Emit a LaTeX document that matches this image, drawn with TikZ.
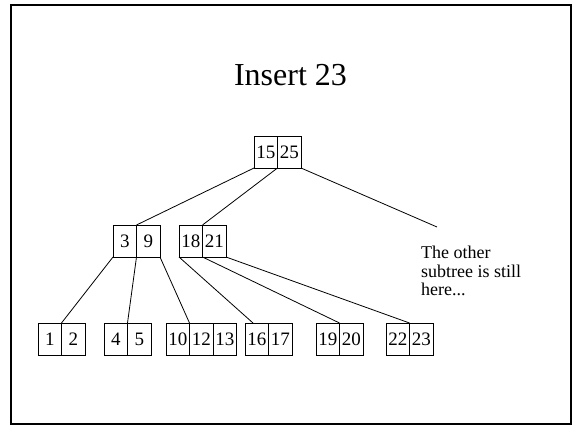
\documentclass[tikz,border=0pt]{standalone}
\usepackage{fontspec}
\setmainfont{Liberation Serif}
\usetikzlibrary{positioning}

\tikzset{
	cell/.style={draw, line width=0.8pt, minimum width=23.5pt, minimum height=32pt, inner sep=0pt, outer sep=0pt, font=\fontsize{19}{21}\selectfont},
	link/.style={draw, line width=0.8pt},
}

\begin{document}
\begin{tikzpicture}[x=1pt, y=-1pt]
	\useasboundingbox (0,0) rectangle (572,425);
	\draw[line width=2pt] (11,5) rectangle (571,424);
	\node[anchor=base, font=\fontsize{32}{38}\selectfont] (title) at (290.5,86) {Insert 23};

	\node[cell, anchor=north west] (r1) at (254,136) {15};
	\node[cell, right=0pt of r1] (r2) {25};

	\node[cell, anchor=north west] (a1) at (113,225) {3};
	\node[cell, right=0pt of a1] (a2) {9};
	\node[cell, anchor=north west] (b1) at (179,225) {18};
	\node[cell, right=0pt of b1] (b2) {21};

	\node[cell, anchor=north west] (l1a) at (38,323) {1};
	\node[cell, right=0pt of l1a] (l1b) {2};
	\node[cell, anchor=north west] (l2a) at (104,323) {4};
	\node[cell, right=0pt of l2a] (l2b) {5};
	\node[cell, anchor=north west] (l3a) at (166,323) {10};
	\node[cell, right=0pt of l3a] (l3b) {12};
	\node[cell, right=0pt of l3b] (l3c) {13};
	\node[cell, anchor=north west] (l4a) at (245,323) {16};
	\node[cell, right=0pt of l4a] (l4b) {17};
	\node[cell, anchor=north west] (l5a) at (316,323) {19};
	\node[cell, right=0pt of l5a] (l5b) {20};
	\node[cell, anchor=north west] (l6a) at (386,323) {22};
	\node[cell, right=0pt of l6a] (l6b) {23};

	\node[anchor=north west, align=left, inner sep=0pt, font=\fontsize{18}{18.5}\selectfont] (other) at (421,246) {The other\\subtree is still\\here...};
	\coordinate (otherend) at (437,227);

	\draw[link] (r1.south west) -- (a1.north east);
	\draw[link] (r1.south east) -- (b1.north east);
	\draw[link] (r2.south east) -- (otherend);
	\draw[link] (a1.south west) -- (l1a.north east);
	\draw[link] (a1.south east) -- (l2a.north east);
	\draw[link] (a2.south east) -- (l3a.north east);
	\draw[link] (b1.south west) -- ([xshift=8pt]l4a.north west);
	\draw[link] (b1.south east) -- (l5a.north east);
	\draw[link] (b2.south east) -- (l6a.north east);
\end{tikzpicture}
\end{document}
